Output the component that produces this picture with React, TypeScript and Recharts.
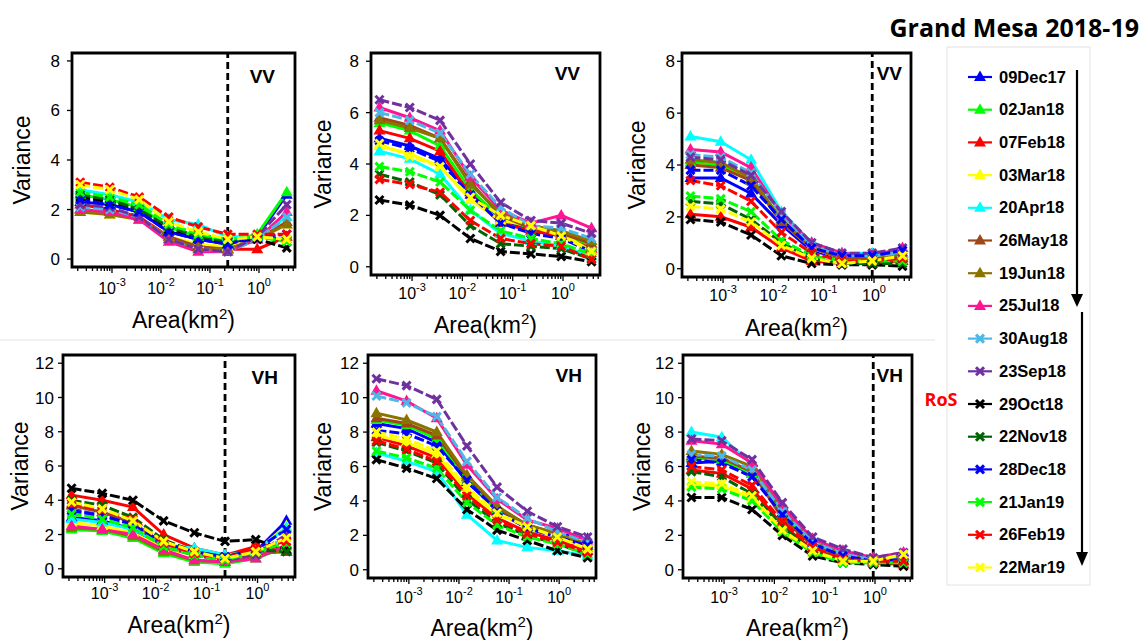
import React from 'react';
import { LineChart, Line, XAxis, YAxis, ReferenceArea, ReferenceLine } from 'recharts';

// window areas (km2) for the 8 aggregation levels
const areas = [0.000225, 0.0009, 0.0036, 0.0144, 0.0576, 0.2304, 0.9216, 3.6864];

const dates = [
  '09Dec17', '02Jan18', '07Feb18', '03Mar18', '20Apr18', '26May18', '19Jun18', '25Jul18',
  '30Aug18', '23Sep18', '29Oct18', '22Nov18', '28Dec18', '21Jan19', '26Feb19', '22Mar19',
];
const colors = [
  '#0000ff', '#00ff00', '#ff0000', '#ffff00', '#00ffff', '#a0471a', '#8b7300', '#ff1493',
  '#4db8e8', '#7030a0', '#000000', '#006400', '#0000ff', '#00ff00', '#ff0000', '#ffff00',
];

const xMajor = [0.001, 0.01, 0.1, 1];
const vvTicks = [0, 2, 4, 6, 8];
const vhTicks = [0, 2, 4, 6, 8, 10, 12];

// rows follow the order of dates
const vv1 = [
  [2.3, 2.2, 1.9, 1.1, 0.8, 0.6, 0.9, 2.6],
  [2.6, 2.4, 2.1, 1.3, 0.9, 0.7, 1.0, 2.7],
  [2.2, 2.0, 1.7, 0.9, 0.5, 0.4, 0.4, 0.9],
  [1.9, 1.8, 1.6, 0.9, 0.6, 0.5, 0.8, 1.4],
  [2.8, 2.6, 2.3, 1.6, 1.4, 0.9, 0.9, 1.7],
  [2.0, 1.9, 1.6, 0.9, 0.5, 0.4, 0.8, 1.5],
  [1.9, 1.8, 1.6, 0.8, 0.4, 0.4, 0.8, 1.4],
  [2.0, 1.9, 1.6, 0.7, 0.3, 0.3, 0.8, 1.9],
  [2.1, 2.0, 1.7, 0.8, 0.4, 0.3, 0.8, 1.7],
  [2.2, 2.1, 1.7, 0.8, 0.4, 0.3, 0.9, 2.2],
  [2.5, 2.3, 2.0, 1.2, 0.8, 0.7, 0.8, 0.45],
  [2.6, 2.4, 2.0, 1.3, 0.9, 0.7, 0.9, 0.8],
  [2.4, 2.2, 1.9, 1.1, 0.8, 0.6, 0.9, 1.0],
  [2.7, 2.5, 2.2, 1.4, 1.0, 0.8, 0.9, 0.7],
  [3.1, 2.9, 2.5, 1.7, 1.3, 1.0, 1.0, 1.0],
  [3.0, 2.8, 2.4, 1.5, 1.1, 0.8, 0.9, 0.8],
];
const vv2 = [
  [5.0, 4.7, 4.2, 2.9, 1.8, 1.5, 1.2, 0.8],
  [5.6, 5.3, 4.7, 3.0, 1.9, 1.5, 1.3, 0.8],
  [5.3, 5.0, 4.5, 2.8, 1.7, 1.4, 1.2, 0.7],
  [4.7, 4.4, 3.9, 2.6, 1.8, 1.6, 1.3, 0.6],
  [4.5, 4.2, 3.6, 2.2, 1.3, 1.0, 0.8, 0.4],
  [5.8, 5.5, 5.0, 3.3, 2.0, 1.5, 1.3, 0.9],
  [5.7, 5.4, 5.0, 3.2, 2.1, 1.6, 1.4, 1.0],
  [6.2, 5.8, 5.3, 3.5, 2.2, 1.7, 2.0, 1.5],
  [6.0, 5.7, 5.2, 3.6, 2.3, 1.6, 1.5, 1.1],
  [6.5, 6.2, 5.7, 4.0, 2.5, 1.8, 1.7, 1.3],
  [2.6, 2.4, 2.0, 1.1, 0.6, 0.5, 0.4, 0.2],
  [3.6, 3.3, 2.8, 1.6, 0.9, 0.8, 0.7, 0.3],
  [4.9, 4.6, 4.1, 2.8, 1.7, 1.3, 1.1, 0.6],
  [3.9, 3.7, 3.3, 2.2, 1.4, 1.1, 0.9, 0.5],
  [3.4, 3.2, 2.9, 1.8, 1.1, 0.9, 0.8, 0.3],
  [4.8, 4.3, 3.9, 2.7, 2.0, 1.6, 1.2, 0.6],
];
const vv3 = [
  [3.5, 3.5, 2.9, 1.7, 0.7, 0.4, 0.4, 0.6],
  [4.1, 4.0, 3.5, 1.9, 0.8, 0.4, 0.4, 0.4],
  [2.1, 2.0, 1.6, 0.8, 0.3, 0.2, 0.2, 0.3],
  [4.0, 3.9, 3.4, 1.8, 0.8, 0.4, 0.4, 0.4],
  [5.1, 4.9, 4.2, 2.2, 1.0, 0.6, 0.6, 0.6],
  [4.0, 3.9, 3.4, 1.8, 0.8, 0.4, 0.4, 0.4],
  [4.2, 4.1, 3.5, 1.9, 0.9, 0.5, 0.5, 0.5],
  [4.6, 4.5, 3.9, 2.1, 1.0, 0.6, 0.5, 0.8],
  [4.4, 4.3, 3.7, 2.1, 0.9, 0.5, 0.5, 0.6],
  [4.3, 4.2, 3.6, 2.2, 1.0, 0.6, 0.6, 0.8],
  [1.9, 1.8, 1.3, 0.5, 0.2, 0.15, 0.15, 0.1],
  [2.6, 2.5, 1.9, 1.0, 0.4, 0.2, 0.2, 0.2],
  [3.8, 3.8, 3.2, 1.9, 0.8, 0.5, 0.5, 0.7],
  [2.8, 2.7, 2.2, 1.1, 0.5, 0.3, 0.3, 0.3],
  [3.4, 3.2, 2.6, 1.4, 0.6, 0.3, 0.3, 0.4],
  [2.4, 2.3, 1.8, 0.9, 0.4, 0.2, 0.3, 0.5],
];
const vh1 = [
  [3.0, 2.8, 2.3, 1.3, 0.8, 0.5, 1.0, 2.8],
  [2.3, 2.2, 1.8, 0.9, 0.4, 0.3, 0.6, 1.3],
  [4.3, 4.0, 3.6, 2.0, 1.2, 0.8, 1.3, 1.0],
  [2.7, 2.5, 2.1, 1.2, 0.8, 0.5, 1.0, 2.5],
  [2.9, 2.7, 2.3, 1.4, 1.2, 0.8, 1.0, 2.4],
  [3.7, 3.3, 2.7, 1.4, 0.9, 0.6, 0.9, 1.0],
  [2.4, 2.3, 1.9, 1.0, 0.5, 0.4, 0.8, 1.1],
  [2.5, 2.3, 2.0, 1.1, 0.5, 0.4, 0.6, 1.4],
  [3.3, 3.0, 2.5, 1.4, 0.9, 0.6, 0.8, 1.9],
  [3.5, 3.1, 2.6, 1.3, 0.8, 0.5, 0.8, 2.0],
  [4.7, 4.4, 4.0, 2.8, 2.1, 1.6, 1.7, 1.1],
  [4.0, 3.7, 3.0, 1.7, 1.0, 0.7, 1.1, 1.0],
  [3.4, 3.1, 2.6, 1.5, 1.0, 0.7, 1.1, 2.3],
  [3.2, 2.9, 2.4, 1.3, 0.8, 0.5, 1.0, 1.5],
  [3.8, 3.4, 2.9, 1.5, 0.9, 0.6, 1.2, 1.6],
  [3.9, 3.5, 2.8, 1.6, 1.0, 0.6, 1.0, 1.8],
];
const vh2 = [
  [8.5, 8.2, 7.4, 5.1, 3.5, 2.5, 2.1, 1.8],
  [8.7, 8.4, 7.6, 5.3, 3.5, 2.4, 2.0, 1.3],
  [7.7, 7.2, 6.5, 4.4, 3.0, 2.2, 1.7, 1.1],
  [7.8, 7.4, 6.7, 4.6, 3.2, 2.6, 2.0, 1.3],
  [6.8, 6.3, 5.7, 3.2, 1.7, 1.3, 1.1, 0.8],
  [8.8, 8.5, 7.8, 5.4, 3.6, 2.6, 2.1, 1.4],
  [9.1, 8.7, 8.0, 5.5, 3.7, 2.6, 2.1, 1.5],
  [10.4, 9.8, 8.8, 6.1, 4.1, 2.9, 2.4, 1.7],
  [10.1, 9.7, 8.9, 6.3, 4.2, 3.0, 2.2, 1.6],
  [11.1, 10.7, 9.9, 7.2, 4.8, 3.4, 2.5, 1.9],
  [6.4, 5.9, 5.3, 3.5, 2.3, 1.7, 1.1, 0.7],
  [7.4, 6.9, 6.2, 4.1, 2.7, 2.0, 1.5, 0.9],
  [8.1, 7.9, 7.2, 5.2, 3.4, 2.4, 1.9, 1.4],
  [6.9, 6.5, 5.9, 3.9, 2.6, 1.9, 1.5, 0.9],
  [7.5, 7.0, 6.3, 4.3, 2.9, 2.1, 1.6, 1.0],
  [8.0, 7.6, 6.9, 4.8, 3.3, 2.5, 1.9, 1.2],
];
const vh3 = [
  [6.2, 6.3, 5.6, 3.3, 1.6, 0.8, 0.6, 0.7],
  [6.5, 6.4, 5.6, 3.2, 1.5, 0.8, 0.5, 0.6],
  [5.8, 5.6, 4.7, 2.6, 1.2, 0.6, 0.4, 0.3],
  [4.9, 4.9, 4.1, 2.2, 1.0, 0.5, 0.5, 0.6],
  [8.0, 7.7, 6.1, 3.5, 1.7, 0.9, 0.6, 0.8],
  [6.6, 6.5, 5.7, 3.0, 1.4, 0.7, 0.5, 0.5],
  [6.9, 6.7, 6.0, 3.5, 1.6, 0.9, 0.6, 0.8],
  [7.5, 7.3, 6.2, 3.7, 1.8, 1.1, 0.7, 1.0],
  [6.7, 6.6, 5.8, 3.4, 1.6, 0.9, 0.6, 0.7],
  [7.6, 7.5, 6.4, 3.9, 1.9, 1.2, 0.7, 1.0],
  [4.2, 4.2, 3.5, 2.0, 0.8, 0.4, 0.3, 0.2],
  [5.7, 5.4, 4.4, 2.5, 1.1, 0.6, 0.4, 0.4],
  [6.4, 6.2, 5.4, 3.2, 1.5, 0.8, 0.5, 0.6],
  [4.8, 4.7, 4.0, 2.2, 1.0, 0.4, 0.4, 0.4],
  [6.0, 5.8, 4.9, 2.8, 1.3, 0.6, 0.5, 0.5],
  [5.1, 5.0, 4.3, 2.3, 1.1, 0.5, 0.5, 0.9],
];

const FONT = '"Liberation Sans", Arial, sans-serif';
const X_DOMAIN = [Math.pow(10, -3.816), Math.pow(10, 0.735)];

// log axis ticks: 1..9 per decade inside the domain
const xTicks: number[] = [];
for (let e = -4; e <= 0; e++) {
  for (let m = 1; m <= 9; m++) {
    const v = m * Math.pow(10, e);
    if (v >= X_DOMAIN[0] && v <= X_DOMAIN[1]) xTicks.push(v);
  }
}

function toRows(rows: number[][]) {
  return areas.map((a, j) => {
    const r: any = { area: a };
    rows.forEach((s, i) => (r['s' + i] = s[j]));
    return r;
  });
}

function Marker({ cx, cy, idx, color }: any) {
  if (cx == null || cy == null) return null;
  if (idx < 8) {
    return <polygon points={`${cx},${cy - 6.5} ${cx - 6},${cy + 4} ${cx + 6},${cy + 4}`} fill={color} />;
  }
  const d = 4;
  return (
    <g stroke={color} strokeWidth={3}>
      <line x1={cx - d} y1={cy - d} x2={cx + d} y2={cy + d} />
      <line x1={cx - d} y1={cy + d} x2={cx + d} y2={cy - d} />
    </g>
  );
}

function XTick({ x, y, payload, labelDy }: any) {
  const v = payload.value;
  const major = xMajor.some((m) => Math.abs(m - v) / m < 1e-6);
  return (
    <g>
      <line x1={x} x2={x} y1={y} y2={y + (major ? 6 : 4)} stroke="#000" strokeWidth={1.3} />
      {major && (
        <text x={x} y={y + labelDy} textAnchor="middle" fontSize={16} fontFamily={FONT} fill="#000">
          10<tspan dy={-8} fontSize={11}>{Math.round(Math.log10(v))}</tspan>
        </text>
      )}
    </g>
  );
}

type PanelProps = {
  rows: number[][];
  cl: number; ct: number; w: number; h: number;
  box: { L: number; R: number; T: number; B: number };
  vh: boolean;
  labelRight: number; varX: number; xLabelY: number; areaY: number;
  tagInset: number; tagY: number;
  cut?: number;
};

function Panel(p: PanelProps) {
  const data = toRows(p.rows);
  const yMax = p.vh ? 12 : 8;
  const pad = yMax * 0.04;
  const yDomain = [-pad, yMax + pad];
  const yWidth = p.box.L - p.cl;
  const xHeight = p.ct + p.h - p.box.B;
  const tickSize = 5;
  const vx = p.varX - p.cl;
  const vy = (p.box.T + p.box.B) / 2 - p.ct;
  const ax = (p.box.L + p.box.R) / 2 - p.cl;
  const ay = p.areaY + 8 - p.ct;
  return (
    <div style={{ position: 'absolute', left: p.cl, top: p.ct }}>
      <LineChart
        width={p.w}
        height={p.h}
        data={data}
        margin={{ top: p.box.T - p.ct, right: p.cl + p.w - p.box.R, left: 0, bottom: 0 }}
      >
        <XAxis
          type="number"
          dataKey="area"
          scale="log"
          domain={X_DOMAIN}
          allowDataOverflow
          ticks={xTicks}
          interval={0}
          height={xHeight}
          axisLine={false}
          tickLine={false}
          tickSize={0}
          tickMargin={0}
          tick={<XTick labelDy={p.xLabelY + 6 - p.box.B} />}
          label={{
            content: () => (
              <text x={ax} y={ay} textAnchor="middle" fontSize={23} fontFamily={FONT} fill="#000">
                Area(km<tspan dy={-9} fontSize={15}>2</tspan>
                <tspan dy={9}>)</tspan>
              </text>
            ),
          }}
        />
        <YAxis
          type="number"
          domain={yDomain}
          allowDataOverflow
          ticks={p.vh ? vhTicks : vvTicks}
          interval={0}
          width={yWidth}
          axisLine={false}
          tickLine={{ stroke: '#000', strokeWidth: 1.3 }}
          tickSize={tickSize}
          tickMargin={p.box.L - tickSize - p.labelRight}
          tick={{ fill: '#000', fontSize: 17, fontFamily: FONT }}
          label={{
            content: () => (
              <text
                x={vx}
                y={vy}
                transform={`rotate(-90 ${vx} ${vy})`}
                textAnchor="middle"
                dominantBaseline="central"
                fontSize={23}
                fontFamily={FONT}
                fill="#000"
              >
                Variance
              </text>
            ),
          }}
        />
        {p.rows.map((_, i) => (
          <Line
            key={i}
            type="linear"
            dataKey={'s' + i}
            stroke={colors[i]}
            strokeWidth={3}
            strokeDasharray={i >= 8 ? '10 3' : undefined}
            isAnimationActive={false}
            activeDot={false}
            dot={(d: any) => <Marker key={`m${i}-${d.index}`} cx={d.cx} cy={d.cy} idx={i} color={colors[i]} />}
          />
        ))}
        {p.cut != null && (
          <ReferenceLine x={p.cut} stroke="#000" strokeWidth={2.8} strokeDasharray="7 4" />
        )}
        <ReferenceArea
          x1={X_DOMAIN[0]}
          x2={X_DOMAIN[1]}
          y1={yDomain[0]}
          y2={yDomain[1]}
          fill="none"
          fillOpacity={0}
          stroke="#000"
          strokeWidth={2.8}
          ifOverflow="visible"
          label={{
            content: ({ viewBox }: any) => (
              <text
                x={viewBox.x + viewBox.width - p.tagInset}
                y={viewBox.y + p.tagY}
                textAnchor="end"
                fontSize={19}
                fontWeight="bold"
                fontFamily={FONT}
                fill="#000"
              >
                {p.vh ? 'VH' : 'VV'}
              </text>
            ),
          }}
        />
      </LineChart>
    </div>
  );
}

function LegendBlock() {
  const y0 = 77;
  const dy = 32.7;
  return (
    <svg width={1145} height={640} style={{ position: 'absolute', left: 0, top: 0 }}>
      <line x1={0} x2={935} y1={340} y2={340} stroke="#ececec" strokeWidth={1.5} />
      <rect x={947} y={47} width={143} height={538} fill="none" stroke="#e2e2e2" strokeWidth={1} />
      <text x={1139} y={37} textAnchor="end" fontSize={25} fontWeight="bold" fontFamily='"Open Sans", sans-serif' fill="#000">
        Grand Mesa 2018-19
      </text>
      <text x={941} y={406} textAnchor="middle" fontSize={18} fontWeight="bold" fontFamily='"Open Sans", sans-serif' fill="#ff0000">
        RoS
      </text>
      {dates.map((d, i) => {
        const y = y0 + i * dy;
        return (
          <g key={d}>
            <line x1={968} x2={992} y1={y} y2={y} stroke={colors[i]} strokeWidth={2.2} />
            <Marker cx={980} cy={y} idx={i} color={colors[i]} />
            <text x={999} y={y + 5.5} fontSize={16.5} fontWeight="bold" fontFamily={FONT} fill="#000">
              {d}
            </text>
          </g>
        );
      })}
      <line x1={1077} x2={1077} y1={70} y2={296} stroke="#000" strokeWidth={2.2} />
      <polygon points="1071,294 1083,294 1077,307" fill="#000" />
      <line x1={1082} x2={1082} y1={312} y2={554} stroke="#000" strokeWidth={2.2} />
      <polygon points="1076,552 1088,552 1082,566" fill="#000" />
    </svg>
  );
}

export default function App() {
  return (
    <div style={{ position: 'absolute', left: 0, top: 0, width: 1145, height: 640, background: '#fff', overflow: 'hidden' }}>
      <LegendBlock />
      <Panel rows={vv1} cl={0} ct={40} w={300} h={300} box={{ L: 72, R: 295, T: 53, B: 267 }} vh={false}
        labelRight={60} varX={22} xLabelY={288} areaY={320} tagInset={20} tagY={30} cut={0.2304} />
      <Panel rows={vv2} cl={300} ct={40} w={305} h={300} box={{ L: 371, R: 600, T: 53, B: 275 }} vh={false}
        labelRight={359} varX={323} xLabelY={293} areaY={325} tagInset={20} tagY={27} />
      <Panel rows={vv3} cl={610} ct={40} w={310} h={300} box={{ L: 682, R: 911, T: 53, B: 277 }} vh={false}
        labelRight={675} varX={637} xLabelY={295} areaY={328} tagInset={9} tagY={27} cut={0.9216} />
      <Panel rows={vh1} cl={0} ct={342} w={300} h={298} box={{ L: 63, R: 295, T: 355, B: 577 }} vh
        labelRight={54} varX={20} xLabelY={593} areaY={625} tagInset={17} tagY={29} cut={0.2304} />
      <Panel rows={vh2} cl={300} ct={342} w={305} h={298} box={{ L: 368, R: 596, T: 355, B: 578 }} vh
        labelRight={359} varX={323} xLabelY={597} areaY={628} tagInset={14} tagY={27} />
      <Panel rows={vh3} cl={610} ct={342} w={310} h={298} box={{ L: 683, R: 912, T: 355, B: 578 }} vh
        labelRight={674} varX={642} xLabelY={597} areaY={628} tagInset={9} tagY={27} cut={0.9216} />
    </div>
  );
}
